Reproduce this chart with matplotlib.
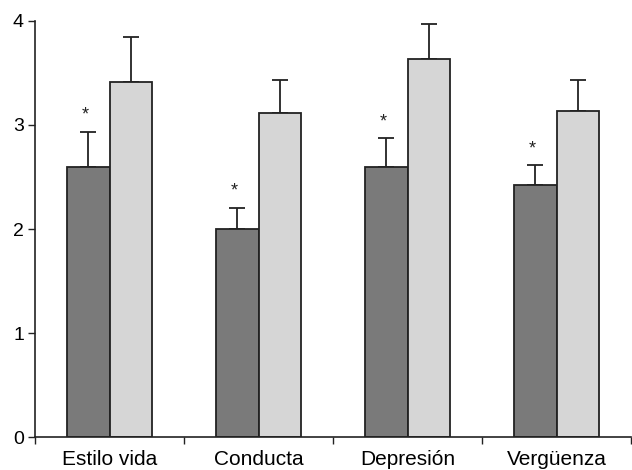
import numpy as np
import matplotlib.pyplot as plt

plt.rcParams['font.family'] = ['Liberation Sans', 'DejaVu Sans']

categories = ['Estilo vida', 'Conducta', 'Depresión', 'Vergüenza']
group_a = [2.6, 2.0, 2.6, 2.42]          # dark bars
group_a_err = [0.33, 0.20, 0.27, 0.19]
group_b = [3.41, 3.11, 3.63, 3.13]       # light bars
group_b_err = [0.43, 0.32, 0.34, 0.30]
significant = [True, True, True, True]

fig = plt.figure(figsize=(6.32, 4.70), dpi=100)
ax = fig.add_axes([35 / 632, 32.7 / 470, 596 / 632, (437.3 - 20.7) / 470])

x = np.arange(len(categories))
w = 0.287
edge = '#222222'

ax.bar(x - w / 2, group_a, w, color='#7a7a7a', edgecolor=edge, linewidth=1.3, zorder=2)
ax.bar(x + w / 2, group_b, w, color='#d6d6d6', edgecolor=edge, linewidth=1.3, zorder=2)

# upper-only error bars
ax.errorbar(x - w / 2, group_a, yerr=[np.zeros(4), group_a_err], fmt='none',
            ecolor=edge, elinewidth=1.3, capsize=5.5, capthick=1.3, zorder=1)
ax.errorbar(x + w / 2, group_b, yerr=[np.zeros(4), group_b_err], fmt='none',
            ecolor=edge, elinewidth=1.3, capsize=5.5, capthick=1.3, zorder=1)

for i, sig in enumerate(significant):
    if sig:
        ax.annotate('*', (x[i] - w / 2, group_a[i] + group_a_err[i]),
                    xytext=(-2, 6), textcoords='offset points',
                    ha='center', va='bottom', fontsize=13, color='#222222')

ax.set_xlim(-0.5, len(categories) - 0.5)
ax.set_ylim(0, 4)
ax.set_yticks([0, 1, 2, 3, 4])
ax.set_xticks(np.arange(len(categories) + 1) - 0.5)
ax.set_xticklabels([])
ax.set_xticks(x, minor=True)
ax.set_xticklabels(categories, minor=True)
ax.tick_params(axis='x', which='minor', length=0, labelsize=15, pad=9)
ax.tick_params(axis='x', which='major', length=5, width=1, color='#222222')
ax.tick_params(axis='y', length=5, width=1, labelsize=14, color='#222222', pad=3)

for s in ['top', 'right']:
    ax.spines[s].set_visible(False)
for s in ['left', 'bottom']:
    ax.spines[s].set_color('#222222')
    ax.spines[s].set_linewidth(1.2)

fig.savefig('out.png', dpi=100)
